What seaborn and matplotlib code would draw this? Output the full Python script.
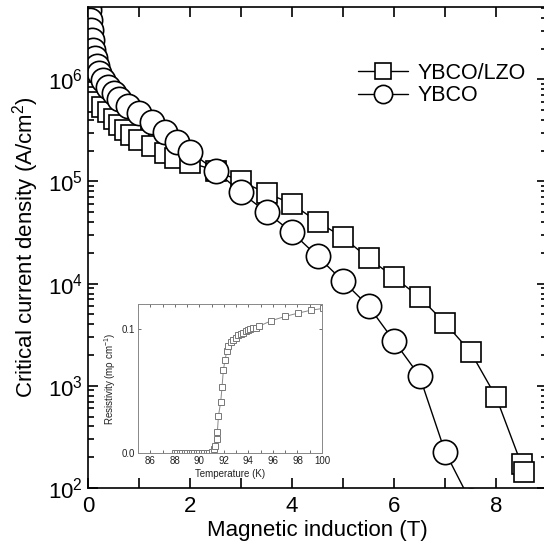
import numpy as np
import pandas as pd
import matplotlib
matplotlib.use("Agg")
import matplotlib.pyplot as plt
import seaborn as sns
from matplotlib.ticker import MultipleLocator, LogLocator, NullFormatter

# ============ Dataset ============
lzo_field = [0.02, 0.08, 0.15, 0.27, 0.39, 0.5, 0.61, 0.73, 0.85, 1.0, 1.25, 1.5,
             1.7, 2.0, 2.5, 3.0, 3.5, 4.0, 4.5, 5.0, 5.5, 6.0, 6.5, 7.0, 7.5, 8.0,
             8.5, 8.55]
lzo_jc = [755000, 675000, 603000, 539000, 482000, 412000, 360000, 322000, 288000,
          257000, 224000, 188000, 171000, 153000, 128000, 100000, 77200, 60300,
          40300, 28440, 17740, 11570, 7390, 4120, 2150, 782, 170, 145]

ybco_field = [0.0, 0.01, 0.02, 0.04, 0.06, 0.08, 0.1, 0.13, 0.17, 0.22, 0.3, 0.4,
              0.5, 0.6, 0.78, 1.0, 1.25, 1.5, 1.75, 2.0, 2.5, 3.0, 3.5, 4.0, 4.5,
              5.0, 5.5, 6.0, 6.5, 7.0, 7.5]
ybco_jc = [6.0e6, 5.3e6, 4.76e6, 3.80e6, 3.04e6, 2.43e6, 1.94e6, 1.62e6, 1.36e6,
           1.16e6, 988000, 845000, 738000, 646000, 546000, 466000, 380000, 304000,
           243000, 196000, 128000, 78200, 49900, 31800, 18500, 10600, 6030, 2750,
           1250, 227, 74]

# inset: resistivity vs temperature
inset_temp = [88.0, 88.2, 88.4, 88.6, 88.8, 89.0, 89.2, 89.4, 89.6, 89.8, 90.0,
              90.2, 90.4, 90.6, 90.8, 91.0, 91.2, 91.28, 91.4, 91.47, 91.56, 91.74,
              91.85, 91.96, 92.1, 92.23, 92.37, 92.55, 92.77, 92.96, 93.18, 93.36,
              93.58, 93.77, 93.99, 94.17, 94.39, 94.58, 94.85, 95.87, 97.0, 98.03,
              99.1, 100.05]
inset_rho = [0.0, 0.0, 0.0, 0.0, 0.0, 0.0, 0.0, 0.0, 0.0, 0.0, 0.0, 0.0, 0.0, 0.0,
             0.0, 0.0005, 0.003, 0.006, 0.011, 0.017, 0.030, 0.041, 0.053, 0.067,
             0.075, 0.082, 0.086, 0.089, 0.091, 0.093, 0.095, 0.096, 0.097, 0.098,
             0.099, 0.100, 0.1005, 0.101, 0.102, 0.1066, 0.110, 0.1126, 0.115, 0.1164]

lzo = pd.DataFrame({"B": lzo_field, "Jc": lzo_jc})
ybco = pd.DataFrame({"B": ybco_field, "Jc": ybco_jc})
rt = pd.DataFrame({"T": inset_temp, "R": inset_rho})

# ============ Style ============
sns.set_style("ticks")
plt.rcParams['font.family'] = ['Liberation Sans', 'DejaVu Sans']
plt.rcParams['mathtext.fontset'] = 'custom'
plt.rcParams['mathtext.rm'] = 'Liberation Sans'
plt.rcParams['mathtext.it'] = 'Liberation Sans:italic'
plt.rcParams['mathtext.default'] = 'regular'
plt.rcParams['text.color'] = 'black'
plt.rcParams['axes.labelcolor'] = 'black'
plt.rcParams['xtick.color'] = 'black'
plt.rcParams['ytick.color'] = 'black'
plt.rcParams['axes.edgecolor'] = 'black'

fig = plt.figure(figsize=(5.44, 5.46), dpi=100)
ax = fig.add_axes([88 / 544, 58 / 546, 459 / 544, 481 / 546])

mk = dict(color='black', linewidth=1.0, markerfacecolor='white',
          markeredgecolor='black', markeredgewidth=1.2,
          estimator=None, sort=False, ax=ax)
sns.lineplot(data=lzo, x="B", y="Jc", marker='s', markersize=15,
             label="YBCO/LZO", **mk)
sns.lineplot(data=ybco, x="B", y="Jc", marker='o', markersize=17.5,
             label="YBCO", **mk)

ax.set_yscale('log')
ax.set_xlim(0, 9)
ax.set_ylim(100, 5.1e6)
ax.xaxis.set_major_locator(MultipleLocator(2))
ax.xaxis.set_minor_locator(MultipleLocator(1))
ax.yaxis.set_major_locator(LogLocator(base=10))
ax.yaxis.set_minor_locator(LogLocator(base=10, subs=np.arange(2, 10)))
ax.yaxis.set_minor_formatter(NullFormatter())
ax.tick_params(which='both', direction='in', top=True, right=True,
               labelsize=16, width=1.2, colors='black')
ax.tick_params(axis='x', which='both', length=7, pad=6)
ax.tick_params(axis='y', which='major', length=7)
ax.tick_params(axis='y', which='minor', length=4)
for s in ax.spines.values():
    s.set_linewidth(1.2)

ax.set_xlabel("Magnetic induction (T)", fontsize=16, labelpad=2)
ax.set_ylabel("Critical current density (A/cm$^2$)", fontsize=16, labelpad=5)

leg = ax.legend(loc='upper left', bbox_to_anchor=(358 / 544, 1 - 63 / 546),
                bbox_transform=fig.transFigure, frameon=False, fontsize=15.5,
                markerscale=0.75, handlelength=2.3, handletextpad=0.45,
                labelspacing=0.05, borderpad=0, borderaxespad=0)

# ============ Inset ============
ins = fig.add_axes([138 / 544, 93 / 546, 184 / 544, 149 / 546])
sns.lineplot(data=rt, x="T", y="R", marker='s', markersize=4.2, color='#888888',
             linewidth=0.7, markerfacecolor='white', markeredgecolor='#777777',
             markeredgewidth=0.7, estimator=None, sort=False, ax=ins)
ins.set_xlim(85, 100)
ins.set_ylim(0, 0.12)
ins.xaxis.set_major_locator(MultipleLocator(2))
ins.xaxis.set_minor_locator(MultipleLocator(1))
ins.set_xticks([86, 88, 90, 92, 94, 96, 98, 100])
ins.set_yticks([0.0, 0.1])
ins.yaxis.set_major_formatter(plt.FormatStrFormatter('%.1f'))
ins.tick_params(which='both', direction='in', labelsize=7, length=2.5,
                width=0.6, colors='#555555', labelcolor='#222222', pad=2,
                top=True, right=True)
for s in ins.spines.values():
    s.set_linewidth(0.7)
    s.set_color('#888888')
ins.set_xlabel("Temperature (K)", fontsize=7, color='#222222', labelpad=2)
ins.set_ylabel("Resistivity (m\u03c1 cm$^{-1}$)", fontsize=7, color='#222222',
               labelpad=3)

fig.savefig("out.png", dpi=100)
